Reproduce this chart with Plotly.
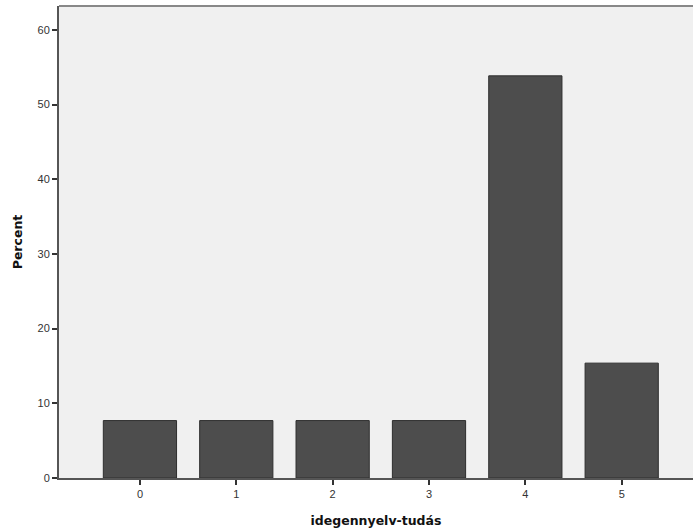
import plotly.graph_objects as go

categories = ["0", "1", "2", "3", "4", "5"]
percent = [7.69, 7.69, 7.69, 7.69, 53.85, 15.38]
y_ticks = [0, 10, 20, 30, 40, 50, 60]

title_font = dict(family="DejaVu Sans, Verdana, sans-serif", size=12.5, color="#111")

fig = go.Figure(go.Bar(
    x=list(range(len(categories))), y=percent,
    width=0.76,
    marker=dict(color="#4d4d4d", line=dict(color="#2e2e2e", width=1)),
))

fig.update_layout(
    width=693, height=532,
    margin=dict(l=59, r=0, t=6, b=54),
    paper_bgcolor="white", plot_bgcolor="#f0f0f0",
    font=dict(family="Arial, Liberation Sans, sans-serif", size=11, color="#333"),
    showlegend=False,
    xaxis=dict(
        range=[-0.84, 5.74], tickmode="array",
        tickvals=list(range(len(categories))), ticktext=categories,
        ticks="outside", ticklen=5, tickwidth=1.5, tickcolor="#333",
        showline=True, linecolor="#555", linewidth=2, showgrid=False, zeroline=False,
        title=dict(text="<b>idegennyelv-tudás</b>", font=title_font, standoff=17),
    ),
    yaxis=dict(
        range=[0, 63.2], tickmode="array", tickvals=y_ticks,
        ticks="outside", ticklen=5, tickwidth=1.5, tickcolor="#333",
        showline=True, linecolor="#555", linewidth=2, showgrid=False, zeroline=False,
        title=dict(text="<b>Percent</b>", font=title_font, standoff=12),
    ),
)
fig.add_shape(type="line", xref="paper", yref="paper", x0=0, x1=1, y0=1, y1=1,
              line=dict(color="#888", width=2))

fig.write_html("out.html", config={"displayModeBar": False},
               post_script="document.body.style.margin='0';document.body.style.overflow='hidden';")
